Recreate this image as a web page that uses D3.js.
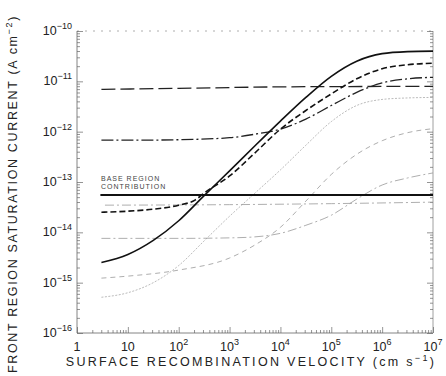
<!DOCTYPE html>
<html><head><meta charset="utf-8">
<script src="https://cdn.jsdelivr.net/npm/d3@7/dist/d3.min.js"></script>
<style>
body{margin:0;background:#fff;}
svg{display:block;font-family:"Liberation Sans",Arial,sans-serif;}
</style></head>
<body><svg id="c" width="446" height="376"></svg>
<script>
// ---- data (log10 S, log10 J) ----
const xTickExps = [0,1,2,3,4,5,6,7];
const yTickExps = [-10,-11,-12,-13,-14,-15,-16];
const sThickSolid = [[0.48,-14.60],[1.0,-14.44],[1.5,-14.16],[2.0,-13.77],[2.5,-13.27],[3.0,-12.78],[3.5,-12.28],[4.0,-11.79],[4.5,-11.32],[5.0,-10.90],[5.5,-10.60],[6.0,-10.45],[6.5,-10.41],[7.0,-10.40]];
const sThickDash = [[0.48,-13.60],[1.0,-13.58],[1.5,-13.54],[2.0,-13.46],[2.32,-13.36],[2.5,-13.22],[3.0,-12.88],[3.5,-12.42],[4.0,-11.95],[4.5,-11.58],[5.0,-11.25],[5.5,-10.95],[6.0,-10.75],[6.5,-10.67],[7.0,-10.64]];
const sThickDashDot = [[0.48,-12.17],[1.0,-12.17],[2.0,-12.16],[3.0,-12.12],[3.5,-12.05],[4.0,-11.95],[4.5,-11.75],[5.0,-11.48],[5.5,-11.22],[6.0,-11.03],[6.5,-10.95],[7.0,-10.92]];
const sLongDash = [[0.48,-11.16],[2.0,-11.14],[4.0,-11.11],[7.0,-11.10]];
const sBase = [[0.46,-13.26],[7.0,-13.26]];
const sThinDashDotHi = [[0.55,-13.46],[3.0,-13.45],[5.0,-13.43],[7.0,-13.40]];
const sThinDashDotLo = [[0.48,-14.12],[1.0,-14.12],[2.0,-14.12],[3.0,-14.11],[3.5,-14.09],[4.0,-14.02],[4.5,-13.86],[5.0,-13.66],[5.5,-13.34],[6.0,-13.06],[6.5,-12.92],[7.0,-12.82]];
const sThinDash = [[0.48,-14.91],[1.0,-14.87],[2.0,-14.75],[3.0,-14.51],[3.5,-14.25],[4.0,-13.90],[4.5,-13.38],[5.0,-12.85],[5.5,-12.45],[6.0,-12.18],[6.5,-12.02],[7.0,-11.94]];
const sThinSolid = [[0.48,-15.29],[1.0,-15.20],[1.5,-15.00],[2.0,-14.66],[2.5,-14.17],[3.0,-13.68],[3.5,-13.22],[4.0,-12.76],[4.5,-12.27],[5.0,-11.80],[5.5,-11.48],[6.0,-11.36],[6.5,-11.33],[7.0,-11.32]];

const W=446,H=376, m={l:77,r:13,t:31,b:43};
const svg=d3.select("#c");
const x=d3.scaleLinear().domain([0,7]).range([m.l,W-m.r]);
const y=d3.scaleLinear().domain([-10,-16]).range([m.t,H-m.b]);

const minorX=[],minorY=[];
for(let e=0;e<7;e++)for(let k=2;k<=9;k++)minorX.push(e+Math.log10(k));
for(let e=-16;e<-10;e++)for(let k=2;k<=9;k++)minorY.push(e+Math.log10(k));

const g=svg.append("g");
g.append("line").attr("x1",x(0)).attr("x2",x(7)).attr("y1",y(-10)).attr("y2",y(-10)).attr("stroke","#999").attr("stroke-width",0.8).attr("stroke-dasharray","2,6");
g.append("line").attr("x1",x(0)).attr("x2",x(7)).attr("y1",y(-16)).attr("y2",y(-16)).attr("stroke","#666").attr("stroke-width",0.8);
g.append("line").attr("x1",x(0)).attr("x2",x(0)).attr("y1",y(-10)).attr("y2",y(-16)).attr("stroke","#666").attr("stroke-width",0.8);
g.append("line").attr("x1",x(7)).attr("x2",x(7)).attr("y1",y(-10)).attr("y2",y(-16)).attr("stroke","#888").attr("stroke-width",0.8);

function axisStyle(sel){sel.select(".domain").remove();sel.selectAll("line").attr("stroke","#666").attr("stroke-width",0.7);sel.selectAll("text").remove();}
svg.append("g").attr("transform",`translate(0,${y(-16)})`).call(d3.axisBottom(x).tickValues(xTickExps).tickSize(-6)).call(axisStyle);
svg.append("g").attr("transform",`translate(0,${y(-16)})`).call(d3.axisBottom(x).tickValues(minorX).tickSize(-3)).call(axisStyle);
svg.append("g").attr("transform",`translate(${x(0)},0)`).call(d3.axisLeft(y).tickValues(yTickExps).tickSize(-6)).call(axisStyle);
svg.append("g").attr("transform",`translate(${x(0)},0)`).call(d3.axisLeft(y).tickValues(minorY).tickSize(-3)).call(axisStyle);
svg.append("g").attr("transform",`translate(${x(7)},0)`).call(d3.axisRight(y).tickValues(yTickExps).tickSize(-6)).call(axisStyle);
svg.append("g").attr("transform",`translate(${x(7)},0)`).call(d3.axisRight(y).tickValues(minorY).tickSize(-3)).call(axisStyle);

const tl=svg.append("g").attr("fill","#222");
yTickExps.forEach(e=>{
  const t=tl.append("text").attr("x",x(0)-5).attr("y",y(e)+4).attr("text-anchor","end").attr("font-size",12.5);
  t.append("tspan").text("10");
  t.append("tspan").attr("dy",-6).attr("font-size",9).text("\u2212"+(-e));
});
xTickExps.forEach(e=>{
  const t=tl.append("text").attr("x",x(e)).attr("y",y(-16)+18).attr("text-anchor","middle").attr("font-size",12.5);
  if(e===0){t.text("1");}
  else if(e===1){t.text("10");}
  else {t.append("tspan").text("10");t.append("tspan").attr("dy",-6).attr("font-size",9).text(e);}
});

const xt=svg.append("text").attr("x",251).attr("y",366).attr("text-anchor","middle").attr("font-size",12.5).attr("letter-spacing",2.3).attr("fill","#222");
xt.append("tspan").text("SURFACE RECOMBINATION VELOCITY (cm s");
xt.append("tspan").attr("dy",-5).attr("font-size",9).text("\u22121");
xt.append("tspan").attr("dy",5).text(")");
const yt=svg.append("text").attr("transform","translate(17,194) rotate(-90)").attr("text-anchor","middle").attr("font-size",12.5).attr("letter-spacing",1.65).attr("fill","#222");
yt.append("tspan").text("FRONT REGION SATURATION CURRENT (A cm");
yt.append("tspan").attr("dy",-5).attr("font-size",9).text("\u22122");
yt.append("tspan").attr("dy",5).text(")");

svg.append("text").attr("x",101).attr("y",181).attr("font-size",7).attr("letter-spacing",1).attr("fill","#444").text("BASE REGION");
svg.append("text").attr("x",101).attr("y",189).attr("font-size",7).attr("letter-spacing",1).attr("fill","#444").text("CONTRIBUTION");

const line=d3.line().x(d=>x(d[0])).y(d=>y(d[1])).curve(d3.curveMonotoneX);
function draw(data,color,w,dash){
  svg.append("path").attr("d",line(data)).attr("fill","none").attr("stroke",color).attr("stroke-width",w).attr("stroke-dasharray",dash||null);
}
draw(sThinSolid,"#aaa",0.8,"2,1.5");
draw(sThinDash,"#999",0.8,"5,4");
draw(sThinDashDotLo,"#999",0.8,"9,3,2,3");
draw(sThinDashDotHi,"#999",0.8,"9,3,2,3");
draw(sBase,"#111",2,null);
draw(sLongDash,"#222",1.3,"14,5");
draw(sThickDashDot,"#222",1.3,"12,3,2,3");
draw(sThickDash,"#111",1.6,"6,3");
draw(sThickSolid,"#111",1.6,null);
</script></body></html>
